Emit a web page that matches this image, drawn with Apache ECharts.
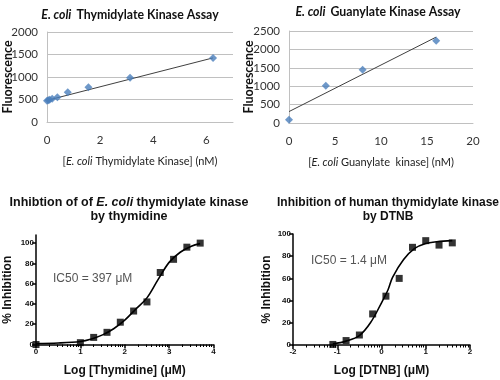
<!DOCTYPE html>
<html>
<head>
<meta charset="utf-8">
<script src="https://cdn.jsdelivr.net/npm/echarts@6/dist/echarts.min.js"></script>
<style>html,body{margin:0;padding:0;background:#fff}#c{width:500px;height:380px}</style>
</head>
<body>
<div id="c"></div>
<script>
// ---- Data ----
const tkConc = [0, 0.049, 0.098, 0.195, 0.39, 0.78, 1.56, 3.125, 6.25];
const tkFluor = [472, 482, 495, 515, 550, 660, 775, 985, 1420];
const tkTrendX = [0, 6.25];
const tkTrendY = [480, 1425];

const gkConc = [0, 4, 8, 16];
const gkFluor = [90, 1010, 1445, 2235];
const gkTrendX = [0, 16];
const gkTrendY = [310, 2335];

const thyLogX = [0, 1.0, 1.3, 1.6, 1.9, 2.2, 2.5, 2.8, 3.1, 3.4, 3.7];
const thyInh = [0, 1.8, 7, 12, 22, 33, 42, 71, 84, 96, 100];
const thyCurveX = [0, 0.5, 1.0, 1.25, 1.5, 1.75, 2.0, 2.25, 2.5, 2.75, 3.0, 3.25, 3.5, 3.7];
const thyCurveY = [1, 1.5, 3, 5.5, 9.5, 15.5, 24, 35, 46, 64, 81, 91, 97, 99.5];

const dtnbLogX = [-1.1, -0.8, -0.5, -0.2, 0.1, 0.4, 0.7, 1.0, 1.3, 1.6];
const dtnbInh = [0.5, 4, 9, 28, 44, 60, 88, 94, 90, 92];
const dtnbCurveX = [-1.1, -0.8, -0.5, -0.25, 0, 0.15, 0.25, 0.5, 0.75, 1.0, 1.25, 1.6];
const dtnbCurveY = [1, 3.5, 8.5, 20, 38, 50, 61, 77, 87, 91.5, 93, 94];

const inhTicks = [0, 20, 40, 60, 80, 100];
const ic50Thy = 'IC50 = 397 \u03bcM';
const ic50Dtnb = 'IC50 = 1.4 \u03bcM';

// ---- helpers ----
const zip = (a, b) => a.map((v, i) => [v, b[i]]);
function logMinor(lo, hi) {
  const out = [];
  for (let d = lo; d < hi; d++) for (let k = 2; k <= 9; k++) out.push(d + Math.log10(k));
  return out;
}
const topFont = 'Lato';
const botFont = 'Liberation Sans';
const gridCol = '#c0c0c0';
const plain = v => String(v);

const excelY = (gi, max, gap) => ({
  gridIndex: gi, type: 'value', min: 0, max: max, interval: 500,
  name: 'Fluorescence', nameLocation: 'middle', nameGap: gap, nameRotate: 90, nameMoveOverlap: false,
  nameTextStyle: { fontFamily: topFont, fontWeight: 'bold', fontSize: 12.5, color: '#111' },
  axisLine: { show: true, lineStyle: { color: gridCol, width: 1 } },
  axisTick: { show: false },
  axisLabel: { fontFamily: topFont, fontSize: 11.5, color: '#333', margin: 9, formatter: plain },
  splitLine: { show: true, lineStyle: { color: gridCol, width: 1 } }
});
const excelX = (gi, max, interval, rich, text) => ({
  gridIndex: gi, type: 'value', min: 0, max: max, interval: interval,
  name: text, nameLocation: 'middle', nameGap: 34, nameMoveOverlap: false,
  nameTextStyle: { fontFamily: topFont, fontSize: 11, color: '#222', rich: rich },
  axisLine: { show: true, onZero: false, lineStyle: { color: gridCol, width: 1 } },
  axisTick: { show: false },
  axisLabel: { fontFamily: topFont, fontSize: 11.5, color: '#333', margin: 12, showMaxLabel: max === 7 ? false : true, formatter: plain },
  splitLine: { show: false }
});
const richTop = {
  i: { fontFamily: topFont, fontStyle: 'italic', fontSize: 11, color: '#222' },
  n: { fontFamily: topFont, fontSize: 11, color: '#222' }
};

const prismX = (gi, min, max, name) => ({
  gridIndex: gi, type: 'value', min: min, max: max, interval: 1,
  name: name, nameLocation: 'middle', nameGap: 20, nameMoveOverlap: false,
  nameTextStyle: { fontFamily: botFont, fontWeight: 'bold', fontSize: 12, color: '#111' },
  axisLine: { show: true, onZero: false, lineStyle: { color: '#000', width: 1.5 } },
  axisTick: { show: true, length: 4, lineStyle: { color: '#000', width: 1.5 } },
  axisLabel: { fontFamily: botFont, fontWeight: 'bold', fontSize: 8, color: '#111', margin: 3 },
  splitLine: { show: false }
});
const prismMinor = (gi, min, max) => ({
  gridIndex: gi, type: 'value', min: min, max: max, position: 'bottom',
  axisLine: { show: false },
  axisTick: { show: true, length: 2.5, customValues: logMinor(min, max), lineStyle: { color: '#000', width: 1 } },
  axisLabel: { show: false },
  splitLine: { show: false }
});
const prismY = (gi, max, gap) => ({
  gridIndex: gi, type: 'value', min: 0, max: max,
  name: '% Inhibition', nameLocation: 'middle', nameGap: gap, nameRotate: 90, nameMoveOverlap: false,
  nameTextStyle: { fontFamily: botFont, fontWeight: 'bold', fontSize: 12, color: '#111' },
  axisLine: { show: true, onZero: false, lineStyle: { color: '#000', width: 1.5 } },
  axisTick: { show: true, length: 4, customValues: inhTicks, lineStyle: { color: '#000', width: 1.5 } },
  axisLabel: { fontFamily: botFont, fontWeight: 'bold', fontSize: 8, color: '#111', margin: 2, customValues: inhTicks },
  splitLine: { show: false }
});

const chart = echarts.init(document.getElementById('c'), null, { renderer: 'canvas' });
const tFont = 12.3;
chart.setOption({
  animation: false,
  backgroundColor: '#fff',
  title: [
    { text: '{i|E. coli} {b|Thymidylate Kinase Assay}', left: 125, top: 1, textAlign: 'center',
      textStyle: { rich: {
        i: { fontFamily: topFont, fontStyle: 'italic', fontWeight: 'bold', fontSize: tFont, color: '#111' },
        b: { fontFamily: topFont, fontWeight: 'bold', fontSize: tFont, color: '#111' } } } },
    { text: '{i|E. coli} {b|Guanylate Kinase Assay}', left: 373, top: -2, textAlign: 'center',
      textStyle: { rich: {
        i: { fontFamily: topFont, fontStyle: 'italic', fontWeight: 'bold', fontSize: tFont, color: '#111' },
        b: { fontFamily: topFont, fontWeight: 'bold', fontSize: tFont, color: '#111' } } } },
    { text: '{b|Inhibtion of of }{i|E. coli}{b| thymidylate kinase}\n{b|by thymidine}', left: 124, top: 191, textAlign: 'center',
      textStyle: { rich: {
        i: { fontFamily: botFont, fontStyle: 'italic', fontWeight: 'bold', fontSize: 12.5, color: '#111', lineHeight: 14, align: 'center' },
        b: { fontFamily: botFont, fontWeight: 'bold', fontSize: 12.5, color: '#111', lineHeight: 14, align: 'center' } } } },
    { text: 'Inhibition of human thymidylate kinase\nby DTNB', left: 383, top: 191, textAlign: 'center',
      textStyle: { fontFamily: botFont, fontWeight: 'bold', fontSize: 12, color: '#111', lineHeight: 14, align: 'center' } }
  ],
  grid: [
    { left: 47, top: 32, width: 186, height: 90, outerBoundsMode: 'none' },
    { left: 289, top: 31, width: 184, height: 92, outerBoundsMode: 'none' },
    { left: 36, top: 235, width: 177.5, height: 109.5, outerBoundsMode: 'none' },
    { left: 293, top: 234, width: 177, height: 111, outerBoundsMode: 'none' }
  ],
  xAxis: [
    excelX(0, 7, 2, richTop, '{n|[}{i|E. coli}{n| Thymidylate Kinase] (nM)}'),
    excelX(1, 20, 5, richTop, '{n|[}{i|E. coli}{n| Guanylate  kinase] (nM)}'),
    prismX(2, 0, 4, 'Log [Thymidine] (\u03bcM)'),
    prismX(3, -2, 2, 'Log [DTNB] (\u03bcM)'),
    prismMinor(2, 0, 4),
    prismMinor(3, -2, 2)
  ],
  yAxis: [
    excelY(0, 2000, 33),
    excelY(1, 2500, 34),
    prismY(2, 108, 22),
    prismY(3, 100, 20)
  ],
  graphic: [
    { type: 'text', left: 53, top: 273, style: { text: ic50Thy, font: '12px "Liberation Sans"', fill: '#555' } },
    { type: 'text', left: 311, top: 255, style: { text: ic50Dtnb, font: '12px "Liberation Sans"', fill: '#555' } }
  ],
  series: [
    { type: 'line', xAxisIndex: 0, yAxisIndex: 0, data: zip(tkTrendX, tkTrendY), symbol: 'none',
      lineStyle: { color: '#404040', width: 1 }, z: 2 },
    { type: 'scatter', xAxisIndex: 0, yAxisIndex: 0, data: zip(tkConc, tkFluor), symbol: 'diamond', symbolSize: 8,
      itemStyle: { color: '#4a7ebb' }, z: 3 },
    { type: 'line', xAxisIndex: 1, yAxisIndex: 1, data: zip(gkTrendX, gkTrendY), symbol: 'none',
      lineStyle: { color: '#404040', width: 1 }, z: 2 },
    { type: 'scatter', xAxisIndex: 1, yAxisIndex: 1, data: zip(gkConc, gkFluor), symbol: 'diamond', symbolSize: 8,
      itemStyle: { color: '#4a7ebb' }, z: 3 },
    { type: 'line', xAxisIndex: 2, yAxisIndex: 2, data: zip(thyCurveX, thyCurveY), symbol: 'none', smooth: 0.35,
      lineStyle: { color: '#000', width: 1.6 }, z: 2 },
    { type: 'scatter', xAxisIndex: 2, yAxisIndex: 2, data: zip(thyLogX, thyInh), symbol: 'rect', symbolSize: 7,
      itemStyle: { color: '#000' }, z: 3 },
    { type: 'line', xAxisIndex: 3, yAxisIndex: 3, data: zip(dtnbCurveX, dtnbCurveY), symbol: 'none', smooth: 0.35,
      lineStyle: { color: '#000', width: 1.6 }, z: 2 },
    { type: 'scatter', xAxisIndex: 3, yAxisIndex: 3, data: zip(dtnbLogX, dtnbInh), symbol: 'rect', symbolSize: 7,
      itemStyle: { color: '#000' }, z: 3 }
  ]
});
</script>
</body>
</html>
